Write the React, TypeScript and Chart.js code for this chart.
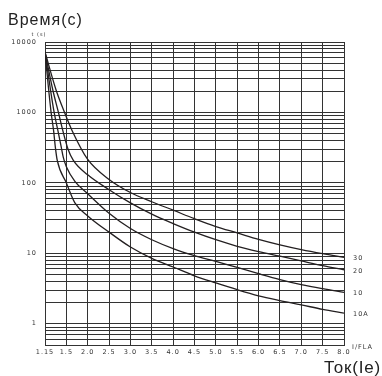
import React, { useEffect, useRef } from "react";
import { Chart, registerables } from "chart.js";

Chart.register(...registerables);

// X axis: tick currents (I/FLA) – ticks are evenly spaced on the drawing
const xTickCurrents = [1.15, 1.5, 2.0, 2.5, 3.0, 3.5, 4.0, 4.5, 5.0, 5.5, 6.0, 6.5, 7.0, 7.5, 8.0];
const xTickLabels = ["1.15", "1.5", "2.0", "2.5", "3.0", "3.5", "4.0", "4.5", "5.0", "5.5", "6.0", "6.5", "7.0", "7.5", "8.0"];

// Y axis (log, seconds)
const yMin = 0.5;
const yMax = 10000;
const yLabelValues = [1, 10, 100, 1000, 10000];
const yGridValues = [
  0.5, 0.6, 0.7, 0.8, 0.9,
  1, 2, 3, 4, 5, 6, 7, 8, 9,
  10, 20, 30, 40, 50, 60, 70, 80, 90,
  100, 200, 300, 400, 500, 600, 700, 800, 900,
  1000, 2000, 3000, 4000, 5000, 6000, 7000, 8000, 9000,
  10000,
];

// Curve "30"
const current30 = [1.15, 1.33, 1.47, 1.63, 2.0, 2.5, 3.0, 3.5, 4.0, 4.5, 5.0, 5.5, 6.0, 6.5, 7.0, 7.5, 8.0];
const time30 = [7200, 2100, 1000, 560, 215, 112, 73, 54, 41, 31, 24, 19.5, 15.8, 13.2, 11.3, 9.9, 8.8];

// Curve "20"
const current20 = [1.15, 1.28, 1.37, 1.44, 1.54, 1.66, 2.0, 2.5, 3.0, 3.5, 4.0, 4.5, 5.0, 5.5, 6.0, 6.5, 7.0, 7.5, 8.0];
const time20 = [7200, 2050, 1000, 560, 300, 210, 130, 80, 52, 36, 26.5, 20, 15.6, 12.6, 10.6, 9.1, 7.8, 6.7, 5.85];

// Curve "10"
const current10 = [1.15, 1.24, 1.3, 1.36, 1.42, 1.45, 1.5, 1.7, 2.0, 2.5, 3.0, 3.5, 4.0, 4.5, 5.0, 5.5, 6.0, 6.5, 7.0, 7.5, 8.0];
const time10 = [7200, 2100, 1000, 560, 310, 230, 170, 105, 70, 37, 22.5, 15.6, 11.7, 9.3, 7.7, 6.3, 5.15, 4.25, 3.6, 3.15, 2.8];

// Curve "10A"
const current10A = [1.15, 1.21, 1.25, 1.29, 1.32, 1.35, 1.5, 1.7, 2.0, 2.5, 3.0, 3.5, 4.0, 4.5, 5.0, 5.5, 6.0, 6.5, 7.0, 7.5, 8.0];
const time10A = [7200, 2100, 1000, 560, 320, 210, 100, 52, 34, 20, 12.3, 8.5, 6.4, 4.8, 3.8, 3.05, 2.5, 2.14, 1.86, 1.6, 1.42];

const curveNames = ["30", "20", "10", "10A"];
const curveCurrents = [current30, current20, current10, current10A];
const curveTimes = [time30, time20, time10, time10A];

// map a current value onto the evenly spaced tick index axis
function toAxis(c: number): number {
  for (let i = 0; i < xTickCurrents.length - 1; i++) {
    const a = xTickCurrents[i];
    const b = xTickCurrents[i + 1];
    if (c <= b || i === xTickCurrents.length - 2) {
      return i + (c - a) / (b - a);
    }
  }
  return 0;
}

const INK = "#231f20";
const GRID = "#333333";
const SMALL_FONT = '6.5px "DejaVu Sans"';

const labelPlugin = {
  id: "curveLabels",
  beforeUpdate(chart: any) {
    try { chart.ctx.letterSpacing = "1px"; } catch (e) {}
  },
  beforeDraw(chart: any) {
    try { chart.ctx.letterSpacing = "1px"; } catch (e) {}
  },
  afterDraw(chart: any) {
    const ctx = chart.ctx;
    const area = chart.chartArea;
    ctx.save();
    try { ctx.letterSpacing = "1px"; } catch (e) {}
    ctx.fillStyle = "#333";
    ctx.font = SMALL_FONT;
    ctx.textAlign = "left";
    ctx.textBaseline = "middle";
    chart.data.datasets.forEach((ds: any, i: number) => {
      const meta = chart.getDatasetMeta(i);
      const last = meta.data[meta.data.length - 1];
      if (last) ctx.fillText(ds.label, area.right + 9, last.y + 1.5);
    });
    ctx.textBaseline = "alphabetic";
    ctx.fillText("I/FLA", area.right + 8, area.bottom + 4);
    ctx.font = '5px "DejaVu Sans"';
    ctx.textAlign = "center";
    ctx.fillText("t (s)", area.left - 6, area.top - 6.5);
    ctx.restore();
  },
};

export default function App() {
  const canvasRef = useRef<HTMLCanvasElement | null>(null);

  useEffect(() => {
    if (!canvasRef.current) return;
    const datasets = curveNames.map((name, k) => ({
      label: name,
      data: curveCurrents[k].map((c, j) => ({ x: toAxis(c), y: curveTimes[k][j] })),
      borderColor: INK,
      borderWidth: 1.3,
      pointRadius: 0,
      fill: false,
      cubicInterpolationMode: "monotone" as const,
    }));

    const chart = new Chart(canvasRef.current, {
      type: "line",
      data: { datasets },
      plugins: [labelPlugin],
      options: {
        animation: false,
        responsive: false,
        layout: { padding: { top: 42, right: 38, left: 0, bottom: 0 } },
        plugins: {
          legend: { display: false },
          tooltip: { enabled: false },
          title: { display: false },
        },
        scales: {
          x: {
            type: "linear",
            min: 0,
            max: xTickLabels.length - 1,
            afterFit: (scale: any) => { scale.height = 31; },
            afterBuildTicks: (scale: any) => {
              scale.ticks = xTickLabels.map((_, i) => ({ value: i }));
            },
            grid: { color: GRID, lineWidth: 1, drawTicks: false },
            border: { display: true, color: GRID, width: 1 },
            ticks: {
              autoSkip: false,
              maxRotation: 0,
              padding: 3,
              color: "#333",
              font: { family: "DejaVu Sans", size: 6.5 },
              callback: (v: any) => xTickLabels[Math.round(Number(v))] ?? "",
            },
          },
          y: {
            type: "logarithmic",
            min: yMin,
            max: yMax,
            afterFit: (scale: any) => { scale.width = 45; },
            afterBuildTicks: (scale: any) => {
              scale.ticks = yGridValues.map((v) => ({ value: v }));
            },
            grid: { color: GRID, lineWidth: 1, drawTicks: false },
            border: { display: true, color: GRID, width: 1 },
            ticks: {
              autoSkip: false,
              padding: 8,
              color: "#333",
              font: { family: "DejaVu Sans", size: 6.5 },
              callback: (v: any) => (yLabelValues.includes(Number(v)) ? String(v) : ""),
            },
          },
        },
      } as any,
    });
    return () => chart.destroy();
  }, []);

  return (
    <div style={{ position: "absolute", left: 0, top: 0, width: 382, height: 376, background: "#fff", overflow: "hidden" }}>
      <canvas ref={canvasRef} width={382} height={376} style={{ position: "absolute", left: 0, top: 0, width: 382, height: 376 }} />
      <div
        style={{
          position: "absolute",
          left: 8,
          top: 11.5,
          fontFamily: '"Liberation Sans", Arial, sans-serif',
          fontSize: 16,
          lineHeight: 1,
          letterSpacing: "1px",
          color: "#222",
          whiteSpace: "nowrap",
        }}
      >
        Время(с)
      </div>
      <div
        style={{
          position: "absolute",
          right: 1,
          top: 358.6,
          fontFamily: '"Liberation Sans", Arial, sans-serif',
          fontSize: 17,
          lineHeight: 1,
          letterSpacing: "0.8px",
          color: "#222",
          whiteSpace: "nowrap",
        }}
      >
        Ток(Ie)
      </div>
    </div>
  );
}
